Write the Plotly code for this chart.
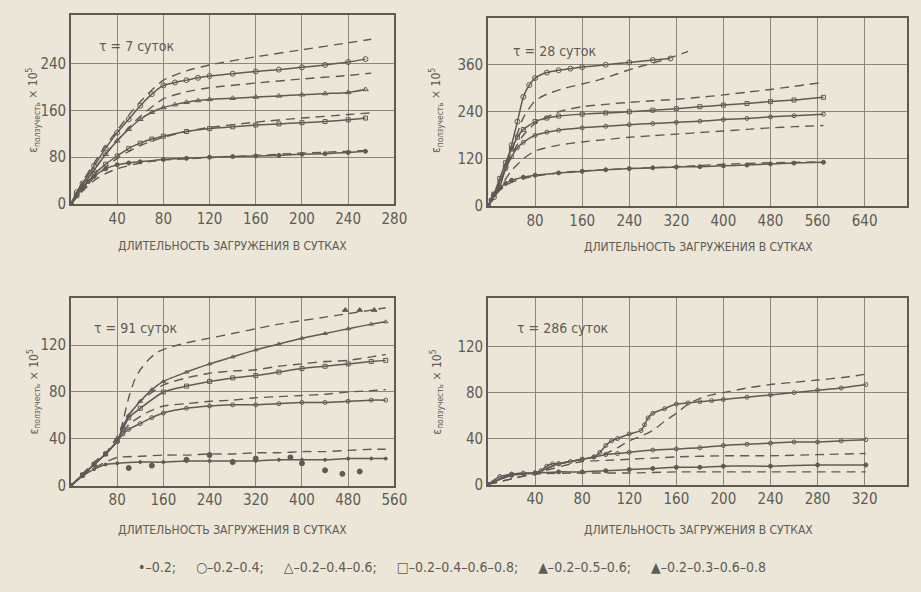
import plotly.graph_objects as go

# ---------------- data: creep strain vs. loading duration ----------------
# tau = 7 days
t7_x_dA = [0, 10, 20, 30, 40, 50, 60, 70, 80, 100, 120, 160, 200, 240, 260]
t7_y_dA = [0, 38, 70, 100, 126, 152, 175, 195, 212, 228, 238, 252, 264, 276, 282]
t7_x_B = [0, 5, 10, 20, 30, 40, 50, 60, 70, 80, 90, 100, 110, 120, 140, 160, 180, 200, 220, 240, 255]
t7_y_B = [0, 20, 35, 65, 95, 122, 145, 168, 188, 203, 208, 212, 216, 219, 223, 227, 230, 234, 238, 243, 248]
t7_x_dC = [0, 10, 20, 30, 40, 50, 60, 80, 100, 120, 160, 200, 240, 260]
t7_y_dC = [0, 30, 58, 85, 108, 130, 150, 180, 192, 199, 207, 214, 220, 224]
t7_x_D = [0, 5, 10, 20, 30, 40, 50, 60, 70, 80, 90, 100, 110, 120, 140, 160, 180, 200, 220, 240, 255]
t7_y_D = [0, 17, 32, 58, 85, 108, 128, 145, 157, 165, 170, 174, 177, 179, 181, 183, 185, 187, 189, 191, 196]
t7_x_E = [0, 5, 10, 20, 30, 40, 50, 60, 70, 80, 100, 120, 140, 160, 180, 200, 220, 240, 255]
t7_y_E = [0, 14, 27, 50, 68, 82, 95, 104, 111, 116, 124, 129, 132, 135, 137, 139, 141, 144, 147]
t7_x_dF = [0, 20, 40, 60, 80, 100, 120, 160, 200, 240, 260]
t7_y_dF = [0, 45, 78, 100, 114, 124, 131, 140, 147, 153, 156]
t7_x_G = [0, 5, 10, 15, 20, 30, 40, 50, 60, 80, 100, 120, 140, 160, 180, 200, 220, 240, 255]
t7_y_G = [0, 15, 28, 38, 47, 60, 67, 70, 72, 76, 78, 80, 81, 82, 83, 85, 86, 88, 90]
t7_x_dH = [0, 10, 20, 30, 40, 60, 80, 120, 160, 200, 240, 260]
t7_y_dH = [0, 22, 40, 52, 60, 70, 75, 79, 83, 87, 90, 92]

# tau = 28 days
t28_x_A = [0, 10, 20, 30, 40, 50, 60, 70, 80, 100, 120, 140, 160, 200, 240, 280, 310]
t28_y_A = [0, 22, 48, 100, 155, 215, 278, 308, 326, 340, 346, 350, 354, 360, 366, 372, 376]
t28_x_dA = [0, 20, 40, 60, 80, 100, 130, 160, 190, 220, 250, 280, 310, 340]
t28_y_dA = [0, 55, 140, 225, 268, 285, 300, 311, 322, 337, 352, 364, 378, 394]
t28_x_B = [0, 10, 20, 30, 40, 50, 60, 80, 100, 120, 160, 200, 240, 280, 320, 360, 400, 440, 480, 520, 570]
t28_y_B = [0, 30, 70, 110, 145, 175, 195, 215, 224, 229, 234, 237, 240, 244, 248, 253, 257, 261, 266, 270, 277]
t28_x_dB = [0, 20, 40, 60, 80, 120, 160, 200, 240, 280, 320, 360, 400, 440, 480, 520, 570]
t28_y_dB = [0, 60, 130, 180, 210, 240, 253, 259, 264, 268, 272, 277, 283, 290, 297, 305, 315]
t28_x_C = [0, 10, 20, 30, 40, 50, 60, 80, 100, 120, 160, 200, 240, 280, 320, 360, 400, 440, 480, 520, 570]
t28_y_C = [0, 28, 62, 95, 125, 148, 162, 180, 188, 193, 199, 203, 207, 210, 213, 216, 220, 223, 227, 230, 234]
t28_x_dC = [0, 20, 40, 60, 80, 120, 160, 200, 240, 280, 320, 360, 400, 440, 480, 520, 570]
t28_y_dC = [0, 45, 90, 120, 140, 155, 163, 169, 175, 179, 183, 187, 191, 195, 199, 202, 205]
t28_x_D = [0, 5, 10, 20, 30, 40, 60, 80, 120, 160, 200, 240, 280, 320, 360, 400, 440, 480, 520, 570]
t28_y_D = [0, 15, 28, 45, 57, 65, 73, 78, 84, 88, 92, 95, 97, 99, 100, 102, 104, 107, 109, 111]
t28_x_dD = [0, 20, 40, 80, 120, 160, 240, 320, 400, 480, 570]
t28_y_dD = [0, 40, 60, 76, 84, 89, 95, 100, 106, 110, 112]

# tau = 91 days
t91_x_dA = [0, 20, 40, 60, 80, 90, 100, 110, 120, 135, 150, 170, 200, 240, 280, 320, 360, 400, 440, 480, 520, 545]
t91_y_dA = [0, 10, 20, 28, 38, 55, 75, 90, 99, 108, 114, 118, 122, 126, 130, 134, 138, 141, 144, 147, 150, 152]
t91_x_B = [0, 20, 40, 60, 80, 90, 100, 120, 140, 160, 200, 240, 280, 320, 360, 400, 440, 480, 520, 545]
t91_y_B = [0, 9, 18, 27, 38, 50, 60, 72, 82, 89, 97, 104, 110, 116, 121, 126, 130, 134, 138, 140]
t91_x_dC = [0, 20, 40, 60, 80, 100, 120, 160, 200, 240, 280, 320, 360, 400, 440, 480, 520, 545]
t91_y_dC = [0, 9, 18, 27, 42, 60, 72, 86, 92, 96, 98, 99, 102, 104, 106, 107, 110, 112]
t91_x_C = [0, 20, 40, 60, 80, 90, 100, 120, 160, 200, 240, 280, 320, 360, 400, 440, 480, 520, 545]
t91_y_C = [0, 9, 18, 27, 38, 48, 58, 66, 80, 85, 89, 92, 94, 97, 100, 102, 104, 106, 107]
t91_x_dD = [0, 20, 40, 60, 80, 100, 130, 160, 200, 240, 280, 320, 360, 400, 440, 480, 520, 545]
t91_y_dD = [0, 9, 18, 27, 38, 52, 62, 68, 70, 72, 73, 75, 76, 77, 78, 80, 81, 82]
t91_x_D = [0, 20, 40, 60, 80, 90, 100, 120, 140, 160, 200, 240, 280, 320, 360, 400, 440, 480, 520, 545]
t91_y_D = [0, 9, 18, 27, 38, 44, 48, 53, 58, 62, 66, 68, 69, 69, 70, 71, 71, 72, 73, 73]
t91_x_dE = [0, 20, 40, 60, 80, 120, 160, 200, 240, 280, 320, 360, 400, 440, 480, 520, 545]
t91_y_dE = [0, 8, 15, 20, 24, 25, 26, 26, 27, 27, 28, 28, 29, 29, 30, 31, 31]
t91_x_E = [0, 20, 40, 60, 80, 120, 160, 200, 240, 280, 320, 360, 400, 440, 480, 520, 545]
t91_y_E = [0, 8, 14, 18, 19, 20, 20, 21, 21, 21, 21, 22, 22, 22, 23, 23, 23]
t91_x_pts = [100, 140, 200, 240, 280, 320, 380, 400, 440, 470, 500]
t91_y_pts = [15, 17, 22, 26, 20, 23, 24, 19, 13, 10, 12]
t91_x_tri = [475, 500, 525]
t91_y_tri = [150, 150, 150]

# tau = 286 days
t286_x_A = [0, 10, 20, 30, 40, 45, 50, 55, 60, 70, 80, 90, 95, 100, 105, 110, 120, 130, 133, 136, 140,
            150, 160, 170, 180, 190, 200, 220, 240, 260, 280, 300, 321]
t286_y_A = [0, 7, 9, 10, 10, 12, 16, 18, 18, 20, 22, 24, 28, 34, 38, 40, 44, 47, 52, 58, 62,
            66, 70, 71, 72, 73, 74, 76, 78, 80, 82, 84, 87]
t286_x_dA = [0, 20, 40, 60, 80, 90, 100, 110, 120, 130, 140, 150, 160, 170, 180, 190, 200, 220, 240, 260, 280, 300, 321]
t286_y_dA = [0, 8, 10, 18, 22, 24, 27, 32, 38, 42, 47, 55, 62, 70, 75, 78, 80, 84, 87, 89, 91, 93, 96]
t286_x_B = [0, 20, 40, 60, 80, 90, 100, 110, 120, 140, 160, 180, 200, 220, 240, 260, 280, 300, 321]
t286_y_B = [0, 9, 10, 18, 22, 24, 26, 27, 28, 30, 31, 32, 34, 35, 36, 37, 37, 38, 39]
t286_x_dB = [0, 40, 80, 100, 120, 140, 160, 200, 240, 280, 321]
t286_y_dB = [0, 10, 20, 21, 22, 23, 24, 25, 25, 26, 27]
t286_x_C = [0, 20, 40, 60, 80, 100, 120, 140, 160, 180, 200, 240, 280, 321]
t286_y_C = [0, 8, 10, 11, 11, 12, 13, 14, 15, 15, 16, 16, 17, 17]
t286_x_dC = [0, 40, 80, 120, 160, 200, 240, 280, 321]
t286_y_dC = [0, 9, 10, 10, 11, 11, 11, 11, 11]

# axis ticks
t7_xticks = [40, 80, 120, 160, 200, 240, 280]
t7_yticks = [0, 80, 160, 240]
t28_xticks = [80, 160, 240, 320, 400, 480, 560, 640]
t28_yticks = [0, 120, 240, 360]
t91_xticks = [80, 160, 240, 320, 400, 480, 560]
t91_yticks = [0, 40, 80, 120]
t286_xticks = [40, 80, 120, 160, 200, 240, 280, 320]
t286_yticks = [0, 40, 80, 120]

panel_titles = ["τ = 7 суток", "τ = 28 суток", "τ = 91 суток", "τ = 286 суток"]
x_title = "ДЛИТЕЛЬНОСТЬ ЗАГРУЖЕНИЯ В СУТКАХ"
y_title = "ε<sub>ползучесть</sub> × 10<sup>5</sup>"
legend_text = ("•–0.2;     ○–0.2–0.4;     △–0.2–0.4–0.6;     □–0.2–0.4–0.6–0.8;     "
               "▲–0.2–0.5–0.6;     ▲–0.2–0.3–0.6–0.8")

# ---------------- styling ----------------
W, H = 921, 592
BG = "#ebe6d8"
INK = "#5f5b54"
GRID = "#8c877d"
FONT = "Liberation Sans Narrow, DejaVu Sans Condensed, Roboto, sans-serif"

fig = go.Figure()


def solid(xs, ys, ax, symbol="circle-open", size=5):
    fig.add_trace(go.Scatter(
        x=xs, y=ys, xaxis="x" + ax, yaxis="y" + ax, mode="lines+markers",
        line=dict(color=INK, width=1.5, shape="spline", smoothing=0.6),
        marker=dict(symbol=symbol, size=size, color=INK, line=dict(color=INK, width=1)),
        showlegend=False, hoverinfo="skip"))


def dashed(xs, ys, ax):
    fig.add_trace(go.Scatter(
        x=xs, y=ys, xaxis="x" + ax, yaxis="y" + ax, mode="lines",
        line=dict(color=INK, width=1.4, dash="9px,6px", shape="spline", smoothing=0.6),
        showlegend=False, hoverinfo="skip"))


def points(xs, ys, ax, symbol, size=5):
    fig.add_trace(go.Scatter(
        x=xs, y=ys, xaxis="x" + ax, yaxis="y" + ax, mode="markers",
        marker=dict(symbol=symbol, size=size, color=INK, line=dict(color=INK, width=1)),
        showlegend=False, hoverinfo="skip"))


# panel 1: tau = 7
dashed(t7_x_dA, t7_y_dA, "")
solid(t7_x_B, t7_y_B, "", "circle-open")
dashed(t7_x_dC, t7_y_dC, "")
solid(t7_x_D, t7_y_D, "", "triangle-up-open")
solid(t7_x_E, t7_y_E, "", "square-open", 4)
dashed(t7_x_dF, t7_y_dF, "")
solid(t7_x_G, t7_y_G, "", "circle", 4)
dashed(t7_x_dH, t7_y_dH, "")

# panel 2: tau = 28
solid(t28_x_A, t28_y_A, "2", "circle-open")
dashed(t28_x_dA, t28_y_dA, "2")
solid(t28_x_B, t28_y_B, "2", "square-open", 4)
dashed(t28_x_dB, t28_y_dB, "2")
solid(t28_x_C, t28_y_C, "2", "circle-open", 4)
dashed(t28_x_dC, t28_y_dC, "2")
solid(t28_x_D, t28_y_D, "2", "circle", 4)
dashed(t28_x_dD, t28_y_dD, "2")

# panel 3: tau = 91
dashed(t91_x_dA, t91_y_dA, "3")
solid(t91_x_B, t91_y_B, "3", "triangle-up-open", 4)
dashed(t91_x_dC, t91_y_dC, "3")
solid(t91_x_C, t91_y_C, "3", "square-open", 4)
dashed(t91_x_dD, t91_y_dD, "3")
solid(t91_x_D, t91_y_D, "3", "circle-open", 4)
dashed(t91_x_dE, t91_y_dE, "3")
solid(t91_x_E, t91_y_E, "3", "circle", 3)
points(t91_x_pts, t91_y_pts, "3", "circle", 5)
points(t91_x_tri, t91_y_tri, "3", "triangle-up", 5)

# panel 4: tau = 286
solid(t286_x_A, t286_y_A, "4", "circle-open", 4)
dashed(t286_x_dA, t286_y_dA, "4")
solid(t286_x_B, t286_y_B, "4", "circle-open", 4)
dashed(t286_x_dB, t286_y_dB, "4")
solid(t286_x_C, t286_y_C, "4", "circle", 4)
dashed(t286_x_dC, t286_y_dC, "4")


def px_x(a, b):
    return [a / W, b / W]


def px_y(top, bottom):
    return [1 - bottom / H, 1 - top / H]


def axis(dom, rng, ticks, anchor):
    return dict(domain=dom, range=rng, tickvals=ticks, ticktext=[str(t) for t in ticks],
                showline=True, mirror=True, linecolor=INK, linewidth=1.6,
                showgrid=True, gridcolor=GRID, gridwidth=1, zeroline=False,
                ticks="", tickfont=dict(family=FONT, size=15, color=INK),
                anchor=anchor, fixedrange=True)


fig.update_layout(
    width=W, height=H, margin=dict(l=0, r=0, t=0, b=0),
    paper_bgcolor=BG, plot_bgcolor=BG,
    xaxis=axis(px_x(72, 400), [0, 280], t7_xticks, "y"),
    yaxis=axis(px_y(15, 207), [0, 324], t7_yticks, "x"),
    xaxis2=axis(px_x(495, 920), [0, 712], t28_xticks, "y2"),
    yaxis2=axis(px_y(18, 209), [0, 480], t28_yticks, "x2"),
    xaxis3=axis(px_x(72, 400), [0, 560], t91_xticks, "y3"),
    yaxis3=axis(px_y(303, 493), [0, 160], t91_yticks, "x3"),
    xaxis4=axis(px_x(495, 920), [0, 356], t286_xticks, "y4"),
    yaxis4=axis(px_y(303, 492), [0, 162], t286_yticks, "x4"),
)

ann = []
# panel captions
for (x, y, t) in [(98, 47, panel_titles[0]), (518, 52, panel_titles[1]),
                  (93, 333, panel_titles[2]), (522, 333, panel_titles[3])]:
    ann.append(dict(x=x / W, y=1 - y / H, xref="paper", yref="paper", text=t,
                    showarrow=False, xanchor="left", yanchor="middle",
                    font=dict(family=FONT, size=14, color=INK)))
# x titles
for (x, y) in [(236, 250), (708, 251), (236, 538), (708, 538)]:
    ann.append(dict(x=x / W, y=1 - y / H, xref="paper", yref="paper", text=x_title,
                    showarrow=False, xanchor="center", yanchor="middle",
                    font=dict(family=FONT, size=12, color=INK)))
# y titles
for (x, y) in [(34, 112), (443, 112), (34, 398), (443, 398)]:
    ann.append(dict(x=x / W, y=1 - y / H, xref="paper", yref="paper", text=y_title,
                    showarrow=False, xanchor="center", yanchor="middle", textangle=-90,
                    font=dict(family=FONT, size=12, color=INK)))
# marker key
ann.append(dict(x=458 / W, y=1 - 576 / H, xref="paper", yref="paper", text=legend_text,
                showarrow=False, xanchor="center", yanchor="middle",
                font=dict(family=FONT, size=14, color=INK)))
fig.update_layout(annotations=ann)

fig.write_html("out.html")
